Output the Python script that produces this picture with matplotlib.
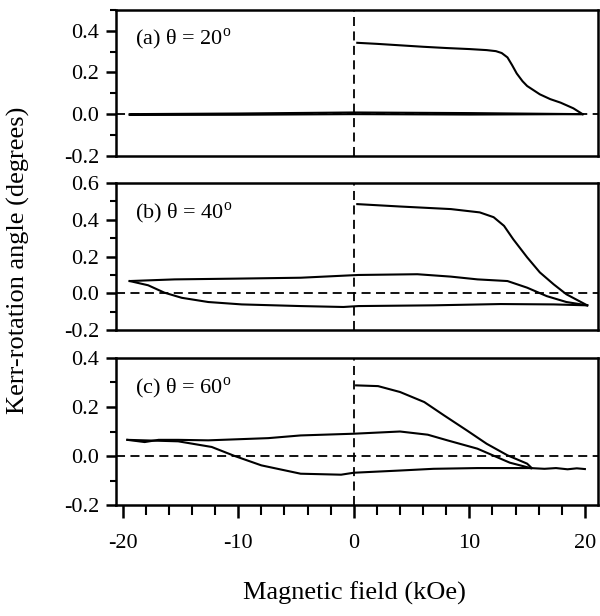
import matplotlib
matplotlib.use("Agg")
import matplotlib.pyplot as plt
from matplotlib.ticker import MultipleLocator

plt.rcParams['font.family'] = ['Liberation Serif', 'DejaVu Serif']
plt.rcParams['mathtext.fontset'] = 'custom'
plt.rcParams['mathtext.rm'] = 'Liberation Serif'
plt.rcParams['axes.unicode_minus'] = False

# (a) theta = 20 deg
a_up_x = [0.3, 2, 4, 6, 8, 10, 11.5, 12.3, 12.8, 13.3, 13.7, 14.1, 14.6, 15.0, 16.1, 17.0, 17.9, 19.0, 19.8]
a_up_y = [0.342, 0.337, 0.33, 0.323, 0.317, 0.312, 0.307, 0.302, 0.293, 0.272, 0.235, 0.195, 0.158, 0.135, 0.095, 0.072, 0.055, 0.028, 0.0]
a_lo1_x = [-19.4, -10, 0, 10, 19.8]
a_lo1_y = [0.0, 0.003, 0.008, 0.005, 0.0]
a_lo2_x = [-19.4, -10, 0, 10, 19.8]
a_lo2_y = [-0.004, -0.003, 0.0, -0.002, 0.0]

# (b) theta = 40 deg
b_up_x = [0.3, 4, 8.4, 10.9, 12.1, 13.0, 13.8, 15.0, 16.1, 17.3, 18.4, 20.2]
b_up_y = [0.485, 0.472, 0.458, 0.44, 0.414, 0.367, 0.294, 0.196, 0.114, 0.049, -0.005, -0.065]
b_mid_x = [-19.4, -15.5, -10.3, -4.6, 0.4, 5.5, 8.4, 10.7, 13.3, 15.0, 16.7, 18.4, 20.2]
b_mid_y = [0.067, 0.076, 0.08, 0.085, 0.1, 0.104, 0.091, 0.076, 0.067, 0.031, -0.015, -0.047, -0.065]
b_lo_x = [-19.4, -17.8, -16.4, -14.9, -12.6, -9.7, -4.6, -0.9, 0.4, 6.9, 12.7, 17.3, 20.2]
b_lo_y = [0.067, 0.044, 0.004, -0.024, -0.047, -0.06, -0.069, -0.074, -0.069, -0.065, -0.058, -0.06, -0.065]

# (c) theta = 60 deg
c_up_x = [0.2, 2.1, 4.0, 6.1, 7.8, 9.8, 11.5, 13.3, 15.0, 15.4]
c_up_y = [0.288, 0.285, 0.261, 0.22, 0.166, 0.104, 0.05, 0.003, -0.031, -0.049]
c_mid_x = [-19.6, -18.1, -16.9, -15.2, -12.6, -7.4, -4.6, 0.0, 4.0, 6.4, 8.1, 10.7, 13.5, 15.3]
c_mid_y = [0.066, 0.057, 0.066, 0.066, 0.064, 0.073, 0.084, 0.091, 0.1, 0.087, 0.064, 0.03, -0.027, -0.049]
c_lo_x = [-19.6, -15.2, -12.3, -10.3, -8.0, -4.6, -1.1, 0.0, 4.0, 6.9, 10.7, 15.3]
c_lo_y = [0.066, 0.06, 0.037, 0.0, -0.038, -0.072, -0.076, -0.068, -0.059, -0.052, -0.049, -0.049]
c_tail_x = [15.3, 16.5, 17.5, 18.5, 19.3, 20.0]
c_tail_y = [-0.049, -0.052, -0.049, -0.054, -0.05, -0.053]

labels = ['(a) θ = 20$^{\\rm o}$', '(b) θ = 40$^{\\rm o}$', '(c) θ = 60$^{\\rm o}$']
ylims = [(-0.2, 0.5), (-0.2, 0.6), (-0.2, 0.4)]
yticks = [[-0.2, 0.0, 0.2, 0.4], [-0.2, 0.0, 0.2, 0.4, 0.6], [-0.2, 0.0, 0.2, 0.4]]
xticks = [-20, -10, 0, 10, 20]

fig = plt.figure(figsize=(6.0, 6.16), dpi=100)
left, width = 0.193, 0.803
axes = [
    fig.add_axes([left, 0.747, width, 0.237]),
    fig.add_axes([left, 0.464, width, 0.239]),
    fig.add_axes([left, 0.180, width, 0.239]),
]

curves = [
    [(a_up_x, a_up_y), (a_lo1_x, a_lo1_y), (a_lo2_x, a_lo2_y)],
    [(b_up_x, b_up_y), (b_mid_x, b_mid_y), (b_lo_x, b_lo_y)],
    [(c_up_x, c_up_y), (c_mid_x, c_mid_y), (c_lo_x, c_lo_y), (c_tail_x, c_tail_y)],
]

for i, ax in enumerate(axes):
    for xs, ys in curves[i]:
        ax.plot(xs, ys, color='black', lw=1.5)
    ax.axhline(0, color='black', lw=1.3, ls=(0, (5, 3)))
    ax.axvline(0, color='black', lw=1.3, ls=(0, (5, 3)))
    ax.set_xlim(-20.6, 21.1)
    ax.set_ylim(*ylims[i])
    ax.set_yticks(yticks[i])
    ax.set_yticklabels(['%.1f' % v for v in yticks[i]])
    ax.yaxis.set_minor_locator(MultipleLocator(0.1))
    ax.tick_params(axis='y', which='major', direction='out', length=7, width=1.8,
                   labelsize=16, pad=5)
    ax.tick_params(axis='y', which='minor', direction='out', length=4, width=1.5)
    for s in ax.spines.values():
        s.set_linewidth(1.8)
    ax.text(0.04, 0.795, labels[i], transform=ax.transAxes, fontsize=16,
            va='center', ha='left')
    if i < 2:
        ax.set_xticks([])
    else:
        ax.set_xticks(xticks)
        ax.set_xticklabels([str(v) for v in xticks])
        ax.xaxis.set_minor_locator(MultipleLocator(2))
        ax.tick_params(axis='x', which='major', direction='out', length=9, width=1.8,
                       labelsize=16, pad=12)
        ax.tick_params(axis='x', which='minor', direction='out', length=7, width=1.5)

fig.text(0.03, 0.578, 'Kerr-rotation angle (degrees)', rotation=90, fontsize=19,
         ha='center', va='center')
fig.text(0.59, 0.037, 'Magnetic field (kOe)', fontsize=19, ha='center', va='center')

fig.savefig('out.png', dpi=100)
